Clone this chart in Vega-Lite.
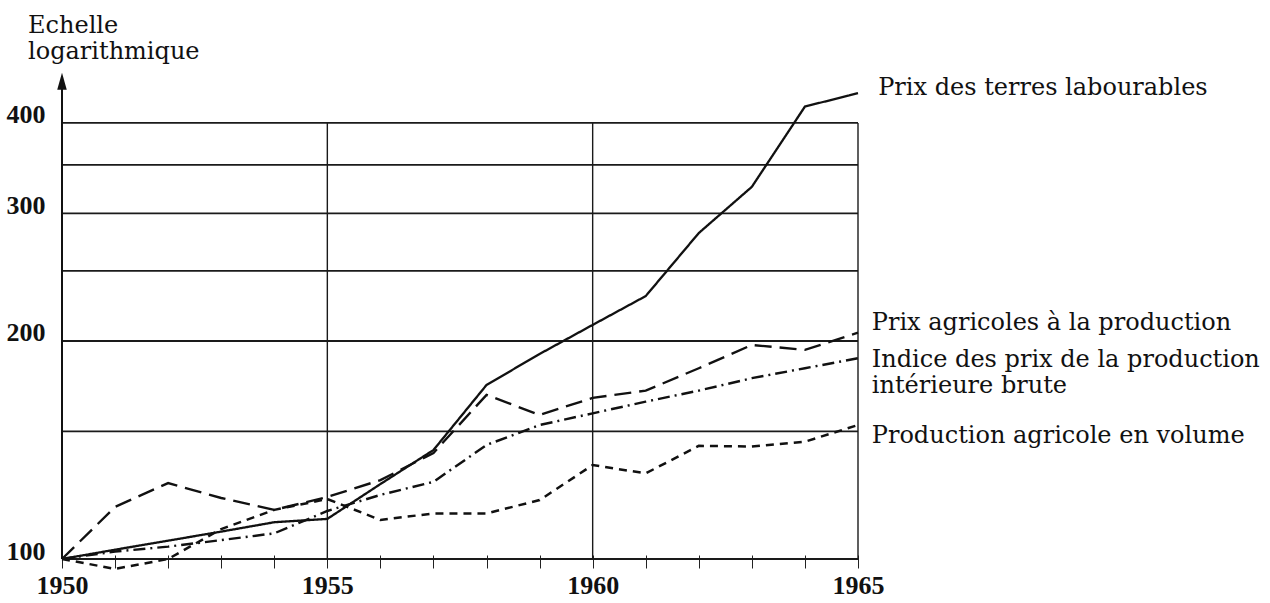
{
  "$schema": "https://vega.github.io/schema/vega-lite/v6.json",
  "autosize": "none",
  "width": 796,
  "height": 480,
  "padding": {"left": 62, "top": 79, "right": 412, "bottom": 44},
  "background": "white",
  "config": {"view": {"stroke": null}},
  "datasets": {
    "series": [
      {"year": 1950, "value": 100, "serie": "terres"},
      {"year": 1951, "value": 103.0, "serie": "terres"},
      {"year": 1952, "value": 106.0, "serie": "terres"},
      {"year": 1953, "value": 109.1, "serie": "terres"},
      {"year": 1954, "value": 112.4, "serie": "terres"},
      {"year": 1955, "value": 113.6, "serie": "terres"},
      {"year": 1956, "value": 126.9, "serie": "terres"},
      {"year": 1957, "value": 141.4, "serie": "terres"},
      {"year": 1958, "value": 173.9, "serie": "terres"},
      {"year": 1959, "value": 191.9, "serie": "terres"},
      {"year": 1960, "value": 210.5, "serie": "terres"},
      {"year": 1961, "value": 230.7, "serie": "terres"},
      {"year": 1962, "value": 281.9, "serie": "terres"},
      {"year": 1963, "value": 326.5, "serie": "terres"},
      {"year": 1964, "value": 421.4, "serie": "terres"},
      {"year": 1965, "value": 439.8, "serie": "terres"},
      {"year": 1950, "value": 100, "serie": "agricoles"},
      {"year": 1951, "value": 118.0, "serie": "agricoles"},
      {"year": 1952, "value": 127.3, "serie": "agricoles"},
      {"year": 1953, "value": 121.4, "serie": "agricoles"},
      {"year": 1954, "value": 116.9, "serie": "agricoles"},
      {"year": 1955, "value": 121.8, "serie": "agricoles"},
      {"year": 1956, "value": 128.5, "serie": "agricoles"},
      {"year": 1957, "value": 140.1, "serie": "agricoles"},
      {"year": 1958, "value": 168.5, "serie": "agricoles"},
      {"year": 1959, "value": 158.1, "serie": "agricoles"},
      {"year": 1960, "value": 166.9, "serie": "agricoles"},
      {"year": 1961, "value": 170.8, "serie": "agricoles"},
      {"year": 1962, "value": 183.4, "serie": "agricoles"},
      {"year": 1963, "value": 197.5, "serie": "agricoles"},
      {"year": 1964, "value": 194.4, "serie": "agricoles"},
      {"year": 1965, "value": 205.4, "serie": "agricoles"},
      {"year": 1950, "value": 100, "serie": "pib"},
      {"year": 1951, "value": 102.4, "serie": "pib"},
      {"year": 1952, "value": 104.0, "serie": "pib"},
      {"year": 1953, "value": 106.2, "serie": "pib"},
      {"year": 1954, "value": 108.5, "serie": "pib"},
      {"year": 1955, "value": 116.5, "serie": "pib"},
      {"year": 1956, "value": 122.6, "serie": "pib"},
      {"year": 1957, "value": 127.8, "serie": "pib"},
      {"year": 1958, "value": 143.7, "serie": "pib"},
      {"year": 1959, "value": 153.1, "serie": "pib"},
      {"year": 1960, "value": 158.9, "serie": "pib"},
      {"year": 1961, "value": 164.9, "serie": "pib"},
      {"year": 1962, "value": 170.8, "serie": "pib"},
      {"year": 1963, "value": 177.7, "serie": "pib"},
      {"year": 1964, "value": 183.4, "serie": "pib"},
      {"year": 1965, "value": 189.3, "serie": "pib"},
      {"year": 1950, "value": 100, "serie": "volume"},
      {"year": 1951, "value": 96.9, "serie": "volume"},
      {"year": 1952, "value": 100.0, "serie": "volume"},
      {"year": 1953, "value": 110.0, "serie": "volume"},
      {"year": 1954, "value": 116.9, "serie": "volume"},
      {"year": 1955, "value": 121.0, "serie": "volume"},
      {"year": 1956, "value": 113.2, "serie": "volume"},
      {"year": 1957, "value": 115.6, "serie": "volume"},
      {"year": 1958, "value": 115.6, "serie": "volume"},
      {"year": 1959, "value": 120.6, "serie": "volume"},
      {"year": 1960, "value": 134.8, "serie": "volume"},
      {"year": 1961, "value": 131.3, "serie": "volume"},
      {"year": 1962, "value": 143.3, "serie": "volume"},
      {"year": 1963, "value": 143.0, "serie": "volume"},
      {"year": 1964, "value": 145.2, "serie": "volume"},
      {"year": 1965, "value": 153.1, "serie": "volume"}
    ],
    "hgrid": [{"v": 100}, {"v": 150}, {"v": 200}, {"v": 250}, {"v": 300}, {"v": 350}, {"v": 400}],
    "vgrid": [{"yr": 1955}, {"yr": 1960}, {"yr": 1965}],
    "labels": [
      {"x": 1949.36, "y": 532.9, "text": ["Echelle", "logarithmique"]},
      {"x": 1965.38, "y": 437.4, "text": ["Prix des terres labourables"]},
      {"x": 1965.26, "y": 207.2, "text": ["Prix agricoles à la production"]},
      {"x": 1965.26, "y": 184.1, "text": ["Indice des prix de la production", "intérieure brute"]},
      {"x": 1965.26, "y": 144.6, "text": ["Production agricole en volume"]}
    ]
  },
  "layer": [
    {
      "data": {"name": "hgrid"},
      "mark": {"type": "rule", "color": "#1a1a1a", "strokeWidth": 1.8},
      "encoding": {
        "x": {"datum": 1950, "type": "quantitative", "scale": {"domain": [1950, 1965], "nice": false, "zero": false},
          "axis": {"title": null, "values": [1950,1951,1952,1953,1954,1955,1956,1957,1958,1959,1960,1961,1962,1963,1964,1965],
            "labelExpr": "datum.value % 5 === 0 ? format(datum.value, 'd') : ''",
            "grid": false, "domain": false, "tickColor": "#222", "tickWidth": 1, "tickSize": 13, "offset": -4,
            "labelFont": "Liberation Serif", "labelFontWeight": "bold", "labelFontSize": 26, "labelColor": "#111", "labelPadding": 4, "labelFlush": false}},
        "x2": {"datum": 1965},
        "y": {"field": "v", "type": "quantitative", "scale": {"type": "log", "domain": [100, 460], "nice": false},
          "axis": {"title": null, "values": [100, 200, 300, 400], "format": "d", "grid": false, "domain": false, "ticks": false,
            "labelFont": "Liberation Serif", "labelFontWeight": "bold", "labelFontSize": 26, "labelColor": "#111",
            "labelBaseline": "alphabetic", "labelPadding": 17}}
      }
    },
    {
      "data": {"name": "vgrid"},
      "mark": {"type": "rule", "color": "#1a1a1a", "strokeWidth": 1.4},
      "encoding": {
        "x": {"field": "yr", "type": "quantitative"},
        "y": {"datum": 100, "type": "quantitative"},
        "y2": {"datum": 400}
      }
    },
    {
      "data": {"values": [{"a": 1}]},
      "mark": {"type": "rule", "color": "#111", "strokeWidth": 2},
      "encoding": {
        "x": {"datum": 1950, "type": "quantitative"},
        "y": {"datum": 100, "type": "quantitative"},
        "y2": {"datum": 450}
      }
    },
    {
      "data": {"values": [{"a": 1}]},
      "mark": {"type": "point", "shape": "M0,-1L0.45,0.6L-0.45,0.6Z", "filled": true, "color": "#111", "size": 450, "opacity": 1, "strokeWidth": 0},
      "encoding": {
        "x": {"datum": 1950, "type": "quantitative"},
        "y": {"datum": 453.6, "type": "quantitative"}
      }
    },
    {
      "data": {"name": "series"},
      "mark": {"type": "line", "color": "#111", "clip": false},
      "encoding": {
        "x": {"field": "year", "type": "quantitative"},
        "y": {"field": "value", "type": "quantitative"},
        "detail": {"field": "serie"},
        "strokeDash": {"field": "serie", "type": "nominal", "legend": null,
          "scale": {"domain": ["terres", "agricoles", "pib", "volume"], "range": [[1, 0], [17, 8], [12, 5, 2, 5], [8, 6]]}},
        "strokeWidth": {"field": "serie", "type": "nominal", "legend": null,
          "scale": {"domain": ["terres", "agricoles", "pib", "volume"], "range": [2.3, 2.5, 1.7, 1.7]}}
      }
    },
    {
      "data": {"name": "labels"},
      "mark": {"type": "text", "align": "left", "baseline": "alphabetic", "font": "DejaVu Serif", "fontSize": 24, "lineHeight": 26, "color": "#111"},
      "encoding": {
        "x": {"field": "x", "type": "quantitative"},
        "y": {"field": "y", "type": "quantitative"},
        "text": {"field": "text"}
      }
    }
  ]
}
